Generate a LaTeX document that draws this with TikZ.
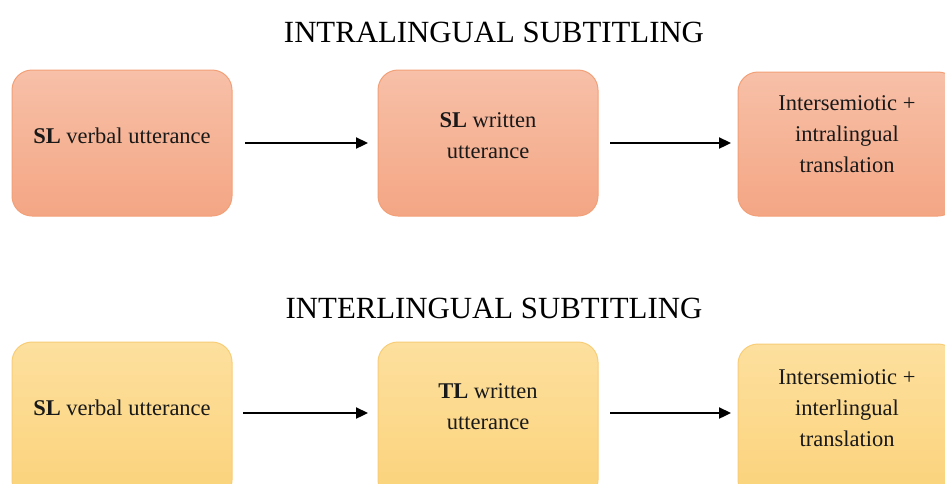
\documentclass[tikz,border=0pt]{standalone}
\usepackage{fontspec}
\setmainfont{Liberation Serif}
\usetikzlibrary{arrows.meta}
\definecolor{rtop}{RGB}{247,192,168}
\definecolor{rbot}{RGB}{244,166,132}
\definecolor{rdraw}{RGB}{242,160,120}
\definecolor{ytop}{RGB}{253,224,158}
\definecolor{ybot}{RGB}{251,210,122}
\definecolor{ydraw}{RGB}{248,205,120}
\tikzset{
  rbox/.style={draw=rdraw, line width=1pt, rounded corners=20pt, top color=rtop, bottom color=rbot},
  ybox/.style={draw=ydraw, line width=1pt, rounded corners=20pt, top color=ytop, bottom color=ybot},
  lbl/.style={align=center, font=\fontsize{22.5}{31}\selectfont, text=black!90},
  ttl/.style={font=\fontsize{30.8}{36}\selectfont},
  arr/.style={-{Triangle[length=12pt,width=11pt]}, line width=2.3pt}
}
\begin{document}
\begin{tikzpicture}[x=1pt,y=-1pt]
\useasboundingbox (0,0) rectangle (945,483);
\clip (0,0) rectangle (945,483);
\node[ttl] (t1) at (494,32) {INTRALINGUAL SUBTITLING};
\node[ttl] (t2) at (494,308) {INTERLINGUAL SUBTITLING};
% top row
\path[rbox] (12,70) rectangle (232,216);
\node[lbl] (a1) at (122,136) {\textbf{SL} verbal utterance};
\path[rbox] (378,70) rectangle (598,216);
\node[lbl] (a2) at (488,136) {\textbf{SL} written\\utterance};
\path[rbox] (738,72) rectangle (958,216);
\node[lbl] (a3) at (847,134) {Intersemiotic +\\intralingual\\translation};
\coordinate (a1e) at (245,143);
\coordinate (a2w) at (368,143);
\coordinate (a2e) at (610,143);
\coordinate (a3w) at (731,143);
\draw[arr] (a1e) -- (a2w);
\draw[arr] (a2e) -- (a3w);
% bottom row
\path[ybox] (12,342) rectangle (232,500);
\node[lbl] (b1) at (122,408) {\textbf{SL} verbal utterance};
\path[ybox] (378,342) rectangle (598,500);
\node[lbl] (b2) at (488,407) {\textbf{TL} written\\utterance};
\path[ybox] (738,344) rectangle (958,500);
\node[lbl] (b3) at (847,408) {Intersemiotic +\\interlingual\\translation};
\coordinate (b1e) at (243,413);
\coordinate (b2w) at (368,413);
\coordinate (b2e) at (610,413);
\coordinate (b3w) at (731,413);
\draw[arr] (b1e) -- (b2w);
\draw[arr] (b2e) -- (b3w);
\end{tikzpicture}
\end{document}
